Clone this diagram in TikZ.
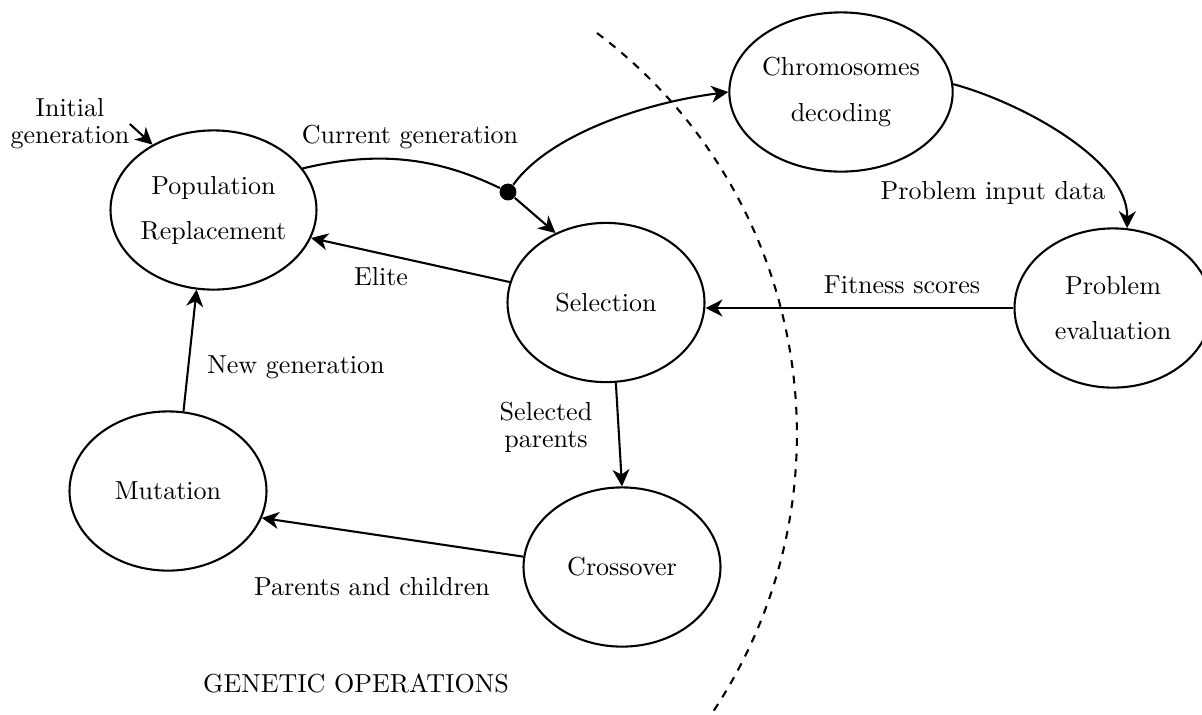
\documentclass[tikz,border=0pt]{standalone}
\usepackage{amsmath}
\usepackage{tikz}
\usetikzlibrary{shapes.geometric,arrows.meta}

\begin{document}
\begin{tikzpicture}[x=0.0135cm, y=-0.0135cm,
  phase/.style={ellipse, draw, thick, minimum width=2.66cm, minimum height=2.15cm, inner sep=0pt, align=center},
  note/.style={inner sep=0pt, align=center},
  flow/.style={thick, -{Stealth[length=6.5pt, width=6.5pt, inset=2pt]}}]
  \useasboundingbox (0,0) rectangle (1202,714);
  \node [phase] (pop) at (213.5,210) {Population\\[5.3pt]Replacement};
  \node [phase] (chrom) at (841,92) {Chromosomes\\[5.3pt]decoding};
  \node [phase] (prob) at (1113,308) {Problem\\[5.3pt]evaluation};
  \node [phase] (sel) at (606,302.5) {Selection};
  \node [phase] (mut) at (168,491) {Mutation};
  \node [phase] (cross) at (622,567) {Crossover};
  \node [circle, fill, inner sep=0pt, minimum size=6.5pt] (split) at (508,192) {};
  % labels
  \node [note] (init) at (70,124) {Initial\\[-1.6pt]generation};
  \node [note] (curgen) at (410,137) {Current generation};
  \node [note] (input) at (993,193) {Problem input data};
  \node [note] (fit) at (902,285) {Fitness scores};
  \node [note] (elite) at (381,277) {Elite};
  \node [note] (parents) at (546,427) {Selected\\[-1.6pt]parents};
  \node [note] (newgen) at (296,367) {New generation};
  \node [note] (children) at (372,587) {Parents and children};
  \node [note] (genops) at (356,683) {GENETIC OPERATIONS};
  % arrows
  \draw [flow] (init.east) -- (pop.133);
  \draw [thick] (pop.25) .. controls (379,150) and (438,158) .. (split);
  \draw [flow] (split) -- (sel.126);
  \draw [flow] (split) .. controls (549,135) and (643,103) .. (chrom.west);
  \draw [flow] (chrom.4) .. controls (1020,102) and (1128,160) .. (prob.80);
  \draw [flow] (prob.west) -- (prob.west -| sel.east);
  \draw [flow] (sel.168) -- (pop.-16);
  \draw [flow] (sel.-83) -- (cross.north);
  \draw [flow] (cross.174) -- (mut.-16);
  \draw [flow] (mut.79) -- (pop.-102);
  % boundary
  \draw [thick, dashed] (597,33) arc [start angle=-53, end angle=34, radius=502];
\end{tikzpicture}
\end{document}
